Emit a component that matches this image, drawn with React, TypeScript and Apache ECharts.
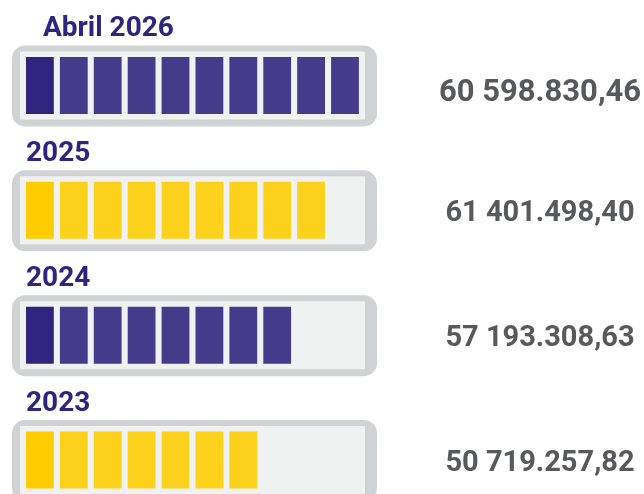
import React, { useEffect, useRef } from "react";
import * as echarts from "echarts";

const categories = ["Abril 2026", "2025", "2024", "2023"];
const segmentCounts = [10, 9, 8, 7];
const totalSegments = 10;
const amounts = [60598830.46, 61401498.4, 57193308.63, 50719257.82];
const rowThemes = ["purple", "yellow", "purple", "yellow"];

const COLORS: Record<string, { first: string; rest: string }> = {
  purple: { first: "#30247f", rest: "#463b8b" },
  yellow: { first: "#ffcc00", rest: "#fcd11b" },
};

function formatAmount(v: number): string {
  const cents = Math.round(v * 100);
  const intPart = Math.floor(cents / 100);
  const dec = String(cents % 100).padStart(2, "0");
  const s = String(intPart);
  const m = s.slice(0, s.length - 6);
  const t = s.slice(-6, -3);
  const u = s.slice(-3);
  return `${m} ${t}.${u},${dec}`;
}

export default function App() {
  const ref = useRef<HTMLDivElement>(null);
  useEffect(() => {
    if (!ref.current) return;
    const chart = echarts.init(ref.current, null, { renderer: "svg" });
    const data = categories.map((c, i) => [segmentCounts[i], i, amounts[i]]);
    chart.setOption({
      animation: false,
      grid: { left: 26, right: 279, top: 85.5, bottom: 34 },
      xAxis: { type: "value", min: 0, max: totalSegments, show: false },
      yAxis: {
        type: "category",
        data: categories,
        inverse: true,
        boundaryGap: false,
        show: false,
      },
      series: [
        {
          type: "custom",
          data,
          encode: { x: 0, y: 1 },
          renderItem: (params: any, api: any) => {
            const row = params.dataIndex;
            const n = api.value(0);
            const [xs, cy] = api.coord([0, row]);
            const [xe] = api.coord([totalSegments, row]);
            const pitch = (xe - xs) / totalSegments;
            const segW = pitch - 6.1;
            const theme = COLORS[rowThemes[row]];
            const children: any[] = [];
            children.push({
              type: "rect",
              shape: { x: xs - 14, y: cy - 40, width: xe - xs + 26, height: 81, r: 13 },
              style: { fill: "#d1d2d4" },
            });
            children.push({
              type: "rect",
              shape: { x: xs - 6, y: cy - 34, width: xe - xs + 6, height: 68, r: 1 },
              style: { fill: "#f0f1f1" },
            });
            for (let i = 0; i < n; i++) {
              children.push({
                type: "rect",
                shape: { x: xs + i * pitch, y: cy - 28.5, width: segW, height: 57 },
                style: { fill: i === 0 ? theme.first : theme.rest },
              });
            }
            children.push({
              type: "text",
              style: {
                x: row === 0 ? xs + 17 : xs,
                y: cy - 59,
                text: categories[row],
                fill: "#2e2580",
                font: "bold 28px Roboto",
                verticalAlign: "middle",
                align: "left",
              },
            });
            children.push({
              type: "text",
              style: {
                x: xe + 175,
                y: cy + (row === 0 ? 5 : 1),
                text: formatAmount(api.value(2)),
                fill: "#58595b",
                font: row === 0 ? "bold 31px Roboto" : "bold 29px Roboto",
                verticalAlign: "middle",
                align: "center",
              },
            });
            return { type: "group", children };
          },
        },
      ],
    });
    return () => chart.dispose();
  }, []);
  return (
    <div
      ref={ref}
      style={{ position: "fixed", left: 0, top: 0, width: 644, height: 494 }}
    />
  );
}
